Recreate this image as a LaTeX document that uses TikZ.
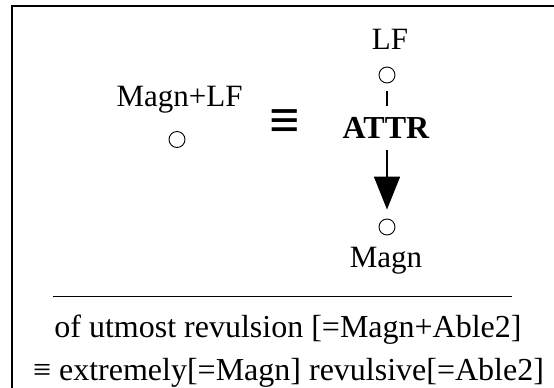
\documentclass[tikz,border=0pt]{standalone}
\usepackage{fontspec}
\setmainfont{Liberation Serif}
\usetikzlibrary{arrows.meta}
\tikzset{
  lbl/.style={inner sep=0pt, anchor=base, font=\fontsize{31}{36}\selectfont},
  boldlbl/.style={inner sep=0pt, anchor=base, font=\fontsize{32}{36}\selectfont\bfseries},
  txt/.style={inner sep=0pt, anchor=base, font=\fontsize{32}{38}\selectfont},
  vtx/.style={circle, draw, line width=0.9pt, minimum size=16pt, inner sep=0pt},
  conn/.style={line width=1.8pt},
}
\begin{document}
\begin{tikzpicture}[x=1pt,y=-1pt]
\useasboundingbox (0,0) rectangle (554,388);
\begin{scope}
\clip (0,0) rectangle (554,388);
\draw[line width=1.6pt] (11.7,400) -- (11.7,5.9) -- (570,5.9);
\end{scope}
% left side
\node[lbl] (magnlf) at (179.5,106) {Magn+LF};
\node[vtx] (cl) at (177,139.5) {};
% equivalence
\node[inner sep=0pt, font=\fontsize{54}{54}\selectfont\bfseries] (eq) at (285,124.5) {≡};
% right column
\node[lbl] (lf) at (390,49.5) {LF};
\node[vtx] (ct) at (387,75) {};
\node[boldlbl] (attr) at (386,138) {ATTR};
\node[vtx] (cb) at (387,227) {};
\node[lbl] (magn) at (386,267) {Magn};
\draw[conn, shorten <=8pt, shorten >=11pt] (ct.south) -- (ct.south |- attr.north);
\draw[conn, shorten <=12pt, shorten >=9pt, -{Triangle[length=33pt,width=26pt]}] (cb.north |- attr.base) -- (cb.north);
% rule
\coordinate (rl) at (53,296);
\coordinate (rr) at (512,296);
\draw[line width=0.9pt] (rl) -- (rr);
% bottom text
\node[txt] (t1) at (288,337.5) {of utmost revulsion [=Magn+Able2]};
\node[txt] (t2) at (288.5,380) {≡ extremely[=Magn] revulsive[=Able2]};
\end{tikzpicture}
\end{document}
